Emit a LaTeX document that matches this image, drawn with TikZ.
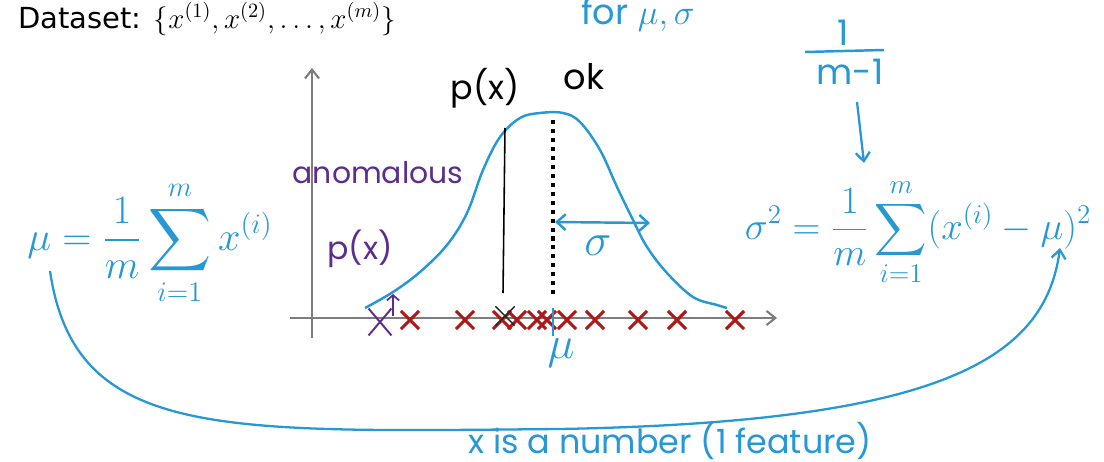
\documentclass[tikz,border=0pt]{standalone}
\usepackage{fix-cm}
\usepackage{amsmath}
\usepackage{fontspec}
\newfontfamily\slidefont{DejaVu Sans}
\newfontfamily\handfont{Poppins}
\usetikzlibrary{arrows.meta,positioning,shapes.misc}
\definecolor{penblue}{RGB}{38,152,214}
\definecolor{penpurple}{RGB}{92,45,140}
\definecolor{crossred}{RGB}{176,24,24}
\definecolor{axisgray}{RGB}{125,125,125}

\begin{document}
\begin{tikzpicture}[
  x=0.02cm, y=-0.02cm,
  hand/.style={font=\handfont\fontsize{#1}{#1}\selectfont, inner sep=0pt},
  hand/.default=18,
  handmath/.style={font=\fontsize{#1}{#1}\selectfont, inner sep=0pt, text=penblue},
  axis/.style={axisgray, line width=1.2pt, -{Straight Barb[length=5pt,width=8pt]}},
  curve/.style={penblue, line width=1.4pt},
  penarrow/.style={penblue, line width=1.3pt, -{Straight Barb[length=5pt,width=8pt]}},
  meanline/.style={black, line width=2.3pt, dash pattern=on 2.3pt off 2.8pt},
  xmark/.style={cross out, draw=crossred, line width=1.8pt, minimum size=0.3cm, inner sep=0pt},
  testmark/.style={cross out, draw=black!85, line width=0.8pt, minimum size=0.36cm, inner sep=0pt},
  anommark/.style={cross out, draw=penpurple, line width=1.1pt, minimum width=0.42cm, minimum height=0.5cm, inner sep=0pt}
]
\useasboundingbox (0,0) rectangle (1104,462);

\node[anchor=west, font=\slidefont\fontsize{16.5}{18}\selectfont, inner sep=0pt] (dataset) at (18,19)
  {Dataset: $\{x^{(1)},x^{(2)},\dots,x^{(m)}\}$};
\node[hand=20, text=penblue, anchor=base west] (formusig) at (581,25) {for $\mu,\sigma$};

\coordinate (ybot) at (312,338);
\coordinate (ytop) at (312,68);
\coordinate (xleft) at (290,318);
\coordinate (xright) at (777,318);
\draw[axis] (ybot) -- (ytop);
\draw[axis] (xleft) -- (xright);

\draw[curve] plot[smooth, tension=0.6] coordinates {(365,308) (393,292) (420,272) (447,245)
  (467,213) (483,170) (500,137) (520,118) (540,113) (563,113) (580,122) (600,150) (617,187)
  (633,220) (647,247) (667,273) (693,297) (717,305) (727,308)};

\coordinate (meantop) at (553,120);
\coordinate (meanbot) at (553,298);
\draw[meanline] (meantop) -- (meanbot);
\coordinate (testtop) at (505,128);
\coordinate (testbot) at (503,293);
\draw[black, line width=0.9pt] (testtop) -- (testbot);

\coordinate (sigl) at (555,222);
\coordinate (sigr) at (650,223);
\draw[curve, {Straight Barb[length=5pt,width=9pt]}-{Straight Barb[length=5pt,width=9pt]}] (sigl) -- (sigr);
\node[handmath=26] (siglab) at (598,246) {$\sigma$};

\foreach \cx [count=\ci] in {410,465,502,517,537,547,567,595,638,677,735}
  \node[xmark] (x\ci) at (\cx,320) {};
\node[testmark] (xtest) at (505,316) {};
\node[anommark] (xanom) at (380,322) {};
\coordinate (anomup) at (393,294);
\draw[penpurple, line width=1pt, -{Straight Barb[length=3pt,width=7pt]}] (393,316) -- (anomup);

\coordinate (mutop) at (553,308);
\coordinate (mubot) at (553,336);
\draw[penblue, line width=1.4pt] (mutop) -- (mubot);
\node[handmath=26] (mulab) at (561,353) {$\mu$};

\node[hand=19] (pxok) at (485,88) {p(x)};
\node[hand=20] (ok) at (584,77) {ok};
\node[hand=17, text=penpurple] (anom) at (378,173) {anomalous};
\node[hand=18, text=penpurple] (pxanom) at (360,249) {p(x)};

\node[handmath=23] (mufml) at (150,243) {$\displaystyle \mu=\frac{1}{m}\sum_{i=1}^{m}x^{(i)}$};
\node[handmath=22] (sigfml) at (918,232) {$\displaystyle \sigma^2=\frac{1}{m}\sum_{i=1}^{m}(x^{(i)}-\mu)^2$};

\node[hand=20, text=penblue] (fracnum) at (843,33) {1};
\coordinate (rulel) at (805,52);
\coordinate (ruler) at (884,50);
\draw[curve] (rulel) -- (ruler);
\node[hand=20, text=penblue] (fracden) at (850,72) {m-1};
\coordinate (fracarr) at (857,102);
\coordinate (sigtop) at (864,163);
\draw[penarrow] (fracarr) -- (sigtop);

\coordinate (loopstart) at (50,271);
\coordinate (loopmid) at (560,429);
\coordinate (loopend) at (1060,248);
\draw[penarrow] (loopstart) .. controls (75,440) and (220,432) .. (loopmid)
  .. controls (940,422) and (1045,360) .. (loopend);
\node[hand=19, text=penblue] (feature) at (670,441) {x is a number (1 feature)};
\end{tikzpicture}
\end{document}
